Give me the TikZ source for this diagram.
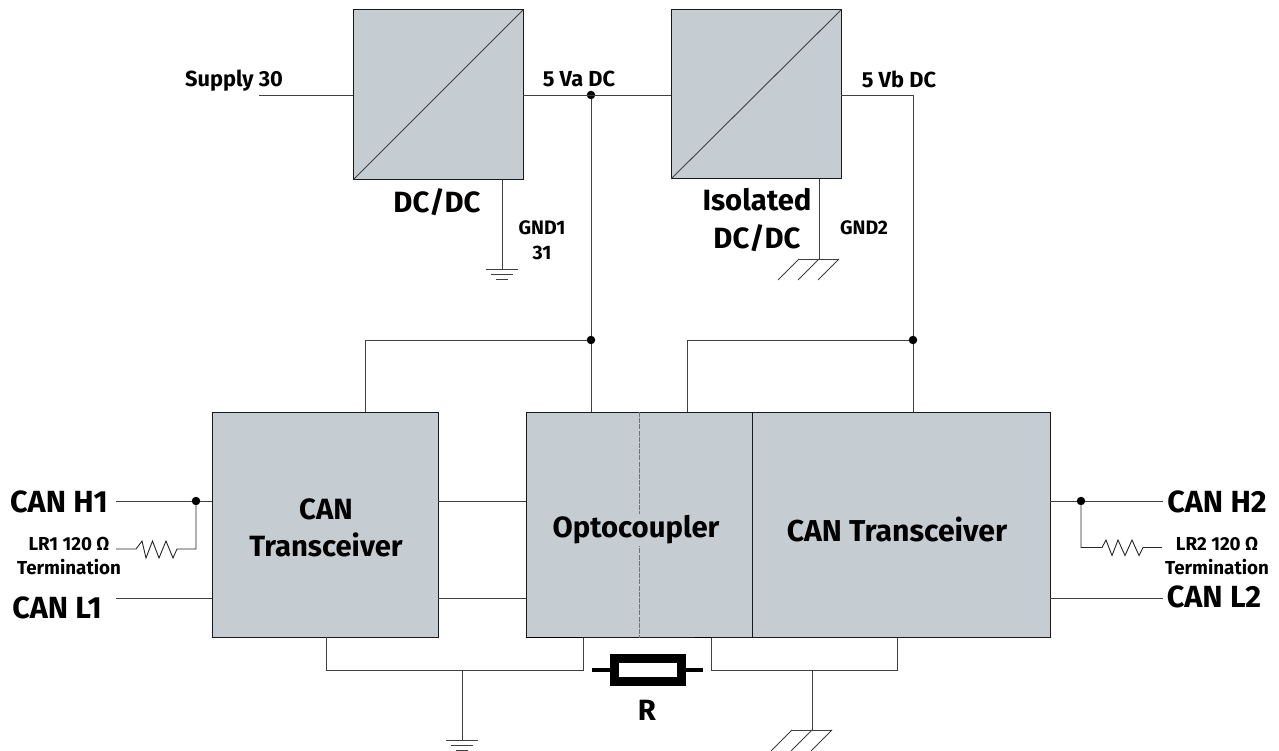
\documentclass[tikz,border=0pt]{standalone}
\usepackage{fontspec}
\setmainfont{Fira Sans}
\tikzset{
  x=1pt,y=-1pt,
  wire/.style={draw=black!75,line width=0.9pt},
  block/.style={draw=black!90,line width=1pt,fill=boxc,inner sep=0pt,outer sep=0pt,anchor=north west},
  dotn/.style={circle,fill=black,inner sep=0pt,minimum size=8.5pt,outer sep=0pt},
  big/.style={inner sep=0pt,font=\fontsize{30.6}{37}\selectfont\bfseries,align=center},
  lab/.style={inner sep=0pt,font=\fontsize{29.3}{37.5}\selectfont\bfseries,align=center},
  toplab/.style={inner sep=0pt,font=\fontsize{21.8}{26}\selectfont\bfseries,align=center},
  mid/.style={inner sep=0pt,font=\fontsize{18.8}{24}\selectfont\bfseries,align=center},
  small/.style={inner sep=0pt,font=\fontsize{19.5}{25}\selectfont\bfseries,align=center},
  zig/.style={draw=black!85,line width=0.9pt,line join=miter},
  rbody/.style={draw=black,line width=9pt,fill=white,minimum width=66.5pt,minimum height=23pt,inner sep=0pt,outer sep=0pt},
}
\definecolor{boxc}{HTML}{C5CDD3}
\newcommand{\gndbars}[1]{%
  \draw[wire] ([xshift=-16pt]#1) -- ([xshift=16pt]#1);
  \draw[wire] ([xshift=-11pt,yshift=-5pt]#1) -- ([xshift=11pt,yshift=-5pt]#1);
  \draw[wire] ([xshift=-6pt,yshift=-10pt]#1) -- ([xshift=6pt,yshift=-10pt]#1);}
\newcommand{\hatchgnd}[1]{%
  \draw[wire] ([xshift=-20pt]#1) -- ([xshift=20pt]#1);
  \foreach \dx in {-20,0,20}{\draw[wire] ([xshift=\dx pt]#1) -- ([xshift=\dx pt-21pt,yshift=-21pt]#1);}}
\begin{document}
\begin{tikzpicture}
\useasboundingbox (0,0) rectangle (1279,751);
% blocks
\node[block,minimum width=170pt,minimum height=170pt] (dcdc) at (353,10) {};
\node[block,minimum width=170pt,minimum height=169pt] (iso) at (671,10) {};
\node[block,minimum width=226pt,minimum height=225pt] (tr1) at (212,412) {};
\node[block,minimum width=226pt,minimum height=225.5pt] (opto) at (526,412) {};
\node[block,minimum width=298pt,minimum height=225.5pt] (tr2) at (752,412) {};
\draw[wire] (dcdc.south west) -- (dcdc.north east);
\draw[wire] (iso.south west) -- (iso.north east);
\coordinate (optoT) at (639,412);
\coordinate (optoB) at (639,637.5);
\draw[black!55,line width=0.9pt,dash pattern=on 5pt off 1.2pt] (optoT) -- (optoB);
% block labels
\node[lab] (ltr1) at (326,528) {CAN\\Transceiver};
\node[lab,fill=boxc,inner ysep=2pt] (lopto) at (636,530) {Optocoupler};
\node[lab,font=\fontsize{30.2}{37}\selectfont\bfseries] (ltr2) at (897,530) {CAN Transceiver};
\node[lab] (ldc) at (437,202) {DC/DC};
\node[lab] (liso) at (757,220) {Isolated\\DC/DC};
% top wires
\coordinate (sup) at (259,95);
\coordinate (va) at (591,95);
\node[dotn] (jva) at (va) {};
\node[dotn] (j1) at (591,340) {};
\node[dotn] (j2) at (913,340) {};
\coordinate (dcout) at (523,95);
\coordinate (isoin) at (671,95);
\coordinate (isoout) at (841,95);
\coordinate (vbc) at (913,95);
\draw[wire] (sup) -- (353,95);
\draw[wire] (dcout) -- (isoin);
\draw[wire] (jva) -- (j1) -- (591,412);
\draw[wire] (j1) -- (365,340) -- (365,412);
\draw[wire] (isoout) -- (vbc) -- (j2) -- (913,412);
\draw[wire] (j2) -- (687,340) -- (687,412);
% top grounds
\coordinate (g1) at (502,269);
\coordinate (g2) at (819,259);
\draw[wire] (502,180) -- (g1);
\gndbars{g1}
\draw[wire] (819,179) -- (g2);
\hatchgnd{g2}
% left side
\node[dotn] (jh1) at (196,501) {};
\node[big] (h1) at (59,502) {CAN H1};
\node[big] (l1) at (57,608) {CAN L1};
\node[mid] (lr1) at (69,556) {LR1 120 Ω\\Termination};
\coordinate (rl1) at (116,549);
\draw[wire] (116,501) -- (jh1) -- (212,501);
\draw[wire] (116,598) -- (212,598);
\draw[zig] (rl1) -- (136,549) -- (142,541) -- (146,558) -- (152.5,541) -- (159,558) -- (166,541) -- (173,558) -- (177,549) -- (196,549) -- (jh1);
\draw[wire] (438,501) -- (526,501);
\draw[wire] (438,598) -- (526,598);
% right side
\node[dotn] (jh2) at (1081,501) {};
\node[big] (h2) at (1217,502) {CAN H2};
\node[big] (l2) at (1214,597) {CAN L2};
\node[mid] (lr2) at (1217,556) {LR2 120 Ω\\Termination};
\draw[wire] (1050,501) -- (jh2) -- (1163,501);
\draw[wire] (1050,598) -- (1163,598);
\draw[zig] (jh2) -- (1081,547.5) -- (1102,547.5) -- (1106,540) -- (1112,555.5) -- (1118,540) -- (1125,555.5) -- (1132,540) -- (1139,555.5) -- (1143,547.5) -- (1162,547.5);
% bottom
\node[rbody] (rr) at (648,670) {};
\coordinate (g3) at (462,740);
\coordinate (g4) at (812,730);
\draw[wire] (326,637) -- (326,670) -- (583,670) -- (583,638);
\draw[wire] (897,638) -- (897,670) -- (711,670) -- (711,638);
\draw[black,line width=1.6pt] (526,637.5) -- (582,637.5);
\draw[black,line width=1.6pt] (695,637.5) -- (711,637.5);
\draw[black,line width=4pt] (592,670) -- (rr.west);
\draw[black,line width=4pt] (rr.east) -- (703,670);
\draw[wire] (462,670) -- (g3);
\gndbars{g3}
\draw[wire] (812,670) -- (g4);
\hatchgnd{g4}
\node[lab] (rlab) at (647,710) {R};
% top labels
\node[toplab] (ls) at (234,81) {Supply 30};
\node[toplab] (lva) at (579,79) {5 Va DC};
\node[toplab] (lvb) at (899,79) {5 Vb DC};
\node[small] (lg1) at (542,240) {GND1\\31};
\node[small] (lg2) at (864,228) {GND2};
\end{tikzpicture}
\end{document}
